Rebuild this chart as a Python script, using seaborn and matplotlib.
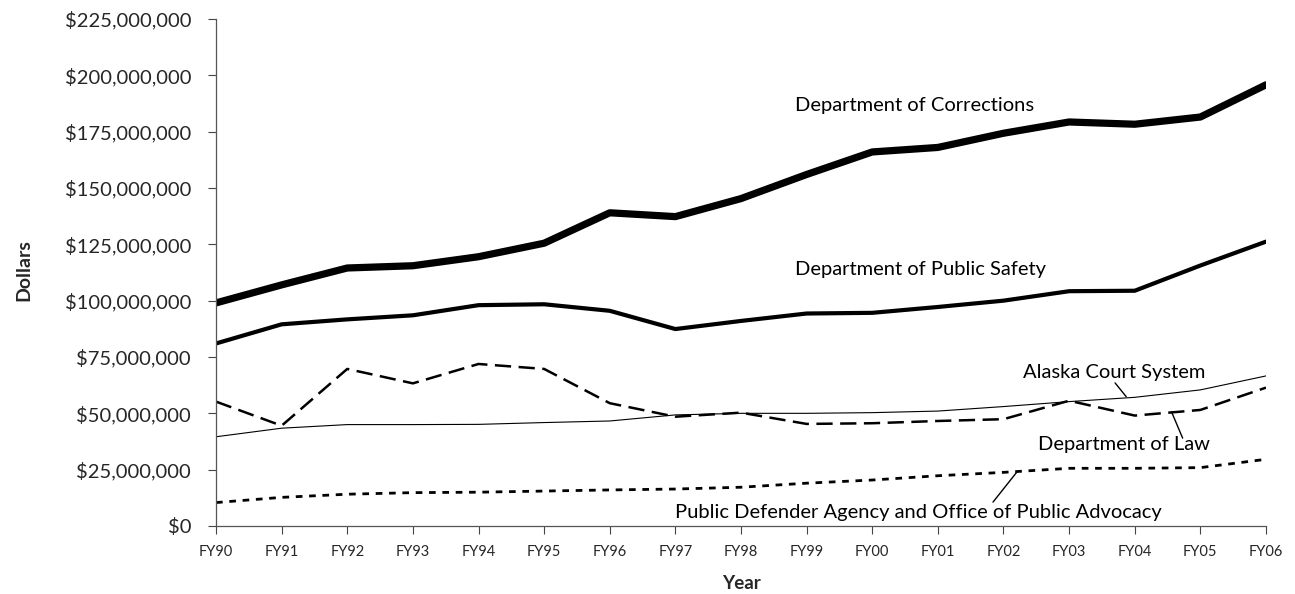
import numpy as np
import pandas as pd
import matplotlib
matplotlib.use("Agg")
import matplotlib.pyplot as plt
import seaborn as sns
from matplotlib.ticker import FuncFormatter

# -----------------------------
# data (millions of dollars)
# -----------------------------
years = ["FY90", "FY91", "FY92", "FY93", "FY94", "FY95", "FY96", "FY97", "FY98",
         "FY99", "FY00", "FY01", "FY02", "FY03", "FY04", "FY05", "FY06"]
corrections = [99.0, 107.0, 114.5, 115.5, 119.5, 125.5, 139.0, 137.3, 145.3,
               156.0, 166.0, 168.0, 174.3, 179.3, 178.3, 181.5, 195.8]
public_safety = [81.0, 89.5, 91.7, 93.5, 98.0, 98.4, 95.5, 87.4, 91.0,
                 94.3, 94.6, 97.2, 100.0, 104.2, 104.4, 115.6, 126.2]
law = [55.2, 44.5, 69.7, 63.3, 71.9, 69.7, 54.5, 48.5, 50.3,
       45.3, 45.6, 46.6, 47.4, 55.6, 49.0, 51.5, 61.4]
court = [39.6, 43.4, 45.0, 45.0, 45.1, 45.9, 46.6, 49.3, 50.0,
         50.0, 50.3, 51.0, 53.0, 55.2, 57.1, 60.4, 66.6]
defender = [10.4, 12.7, 14.1, 14.8, 15.0, 15.5, 16.0, 16.4, 17.2,
            19.0, 20.4, 22.3, 23.8, 25.6, 25.6, 25.9, 29.6]

series_names = ["Department of Corrections", "Department of Public Safety",
                "Department of Law", "Alaska Court System",
                "Public Defender Agency and Office of Public Advocacy"]

df = pd.DataFrame({
    "idx": np.tile(np.arange(len(years)), len(series_names)),
    "dollars": np.concatenate([corrections, public_safety, law, court, defender]) * 1e6,
    "series": np.repeat(series_names, len(years)),
})

styles = {
    "Department of Corrections": dict(lw=5.2, ls="-"),
    "Department of Public Safety": dict(lw=3.0, ls="-"),
    "Department of Law": dict(lw=1.8, ls=(0, (6.5, 3))),
    "Alaska Court System": dict(lw=0.8, ls="-"),
    "Public Defender Agency and Office of Public Advocacy": dict(lw=2.0, ls=(0, (2.4, 2.4))),
}

sns.set_theme(style="white")
plt.rcParams["font.family"] = ["Lato", "DejaVu Sans"]

fig = plt.figure(figsize=(12.95, 5.94), dpi=100)
ax = fig.add_axes([0.1668, 0.1145, 0.8108, 0.8535])

for name in series_names:
    sub = df[df["series"] == name]
    st = styles[name]
    sns.lineplot(data=sub, x="idx", y="dollars", ax=ax, color="black",
                 linewidth=st["lw"], linestyle=st["ls"], legend=False)

ax.set_xlim(0, len(years) - 1)
ax.set_ylim(0, 225e6)
ax.set_xticks(range(len(years)))
ax.set_xticklabels(years, fontsize=10.5)
ax.set_yticks(np.arange(0, 225e6 + 1, 25e6))
ax.yaxis.set_major_formatter(FuncFormatter(lambda v, p: f"${v:,.0f}"))
ax.tick_params(axis="y", labelsize=14.5, length=6, width=0.8, color="#444444",
               direction="out", left=True, pad=12)
ax.tick_params(axis="x", length=6, width=0.8, color="#444444", direction="out",
               bottom=True, pad=8)

for s in ["top", "right"]:
    ax.spines[s].set_visible(False)
for s in ["left", "bottom"]:
    ax.spines[s].set_color("#555555")
    ax.spines[s].set_linewidth(0.9)

ax.set_xlabel("Year", fontsize=13.5, fontweight="bold")
ax.set_ylabel("Dollars", fontsize=14, fontweight="bold")
ax.xaxis.set_label_coords(0.5, -0.096)
ax.yaxis.set_label_coords(-0.175, 0.505)

# line labels
lab = dict(fontsize=14.5, color="black", va="center", ha="left")
ax.text(8.82, 186.4e6, "Department of Corrections", **lab)
ax.text(8.82, 114.0e6, "Department of Public Safety", **lab)
ax.text(12.30, 67.9e6, "Alaska Court System", **lab)
ax.text(12.53, 36.2e6, "Department of Law", **lab)
ax.text(7.00, 5.8e6, "Public Defender Agency and Office of Public Advocacy", **lab)

# leader lines
ax.plot([13.70, 13.87], [63.5e6, 57.4e6], color="black", lw=1.0)
ax.plot([14.56, 14.73], [50.7e6, 39.0e6], color="black", lw=1.0)
ax.plot([12.20, 11.84], [23.8e6, 10.6e6], color="black", lw=1.0)

fig.savefig("out.png", dpi=100)
